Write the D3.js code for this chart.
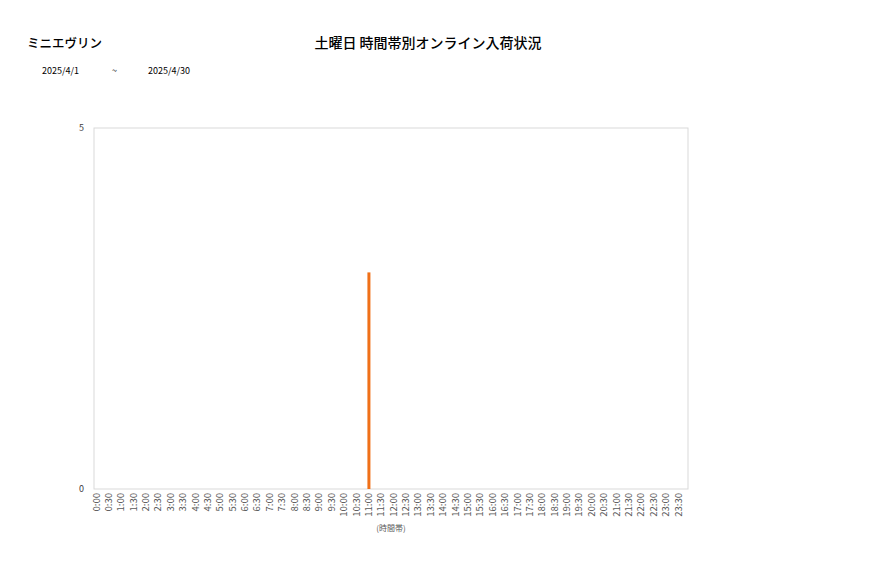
<!DOCTYPE html>
<html>
<head>
<meta charset="utf-8">
<title>土曜日 時間帯別オンライン入荷状況</title>
<script src="https://cdn.jsdelivr.net/npm/d3@7"></script>
<style>
  body { margin: 0; background: #fff; }
  text { font-family: "Noto Sans CJK JP", "Noto Sans", sans-serif; }
</style>
</head>
<body>
<div id="chart"></div>
<script>
// data
var shopName = "ミニエヴリン";
var chartTitle = "土曜日 時間帯別オンライン入荷状況";
var dateFrom = "2025/4/1", dateTo = "2025/4/30";
var timeSlots = [];
for (var h = 0; h < 24; h++) { timeSlots.push(h + ":00"); timeSlots.push(h + ":30"); }
var arrivals = [0,0,0,0,0,0,0,0,0,0,0,0,0,0,0,0,0,0,0,0,0,0,3,0,
                0,0,0,0,0,0,0,0,0,0,0,0,0,0,0,0,0,0,0,0,0,0,0,0];
var yTicks = [0, 5];

var width = 877, height = 578;
var plot = { left: 94, right: 688, top: 128, bottom: 489 };

var svg = d3.select("#chart").append("svg")
  .attr("width", width)
  .attr("height", height);

// titles
svg.append("text").attr("x", 27).attr("y", 48)
  .style("font-size", "12.5px").style("font-weight", "500").attr("fill", "#000")
  .text(shopName);
svg.append("text").attr("x", 428).attr("y", 48)
  .attr("text-anchor", "middle")
  .style("font-size", "14px").style("font-weight", "500").attr("fill", "#000")
  .text(chartTitle);
svg.append("text").attr("x", 42).attr("y", 74).style("font-size", "9px").text(dateFrom);
svg.append("text").attr("x", 112).attr("y", 74).style("font-size", "9px").text("~");
svg.append("text").attr("x", 148).attr("y", 74).style("font-size", "9px").text(dateTo);

var x = d3.scalePoint().domain(timeSlots).range([96.5, 678.5]);
var y = d3.scaleLinear().domain([0, 5]).range([plot.bottom, plot.top]);

// plot frame
svg.append("rect")
  .attr("x", plot.left).attr("y", plot.top)
  .attr("width", plot.right - plot.left).attr("height", plot.bottom - plot.top)
  .attr("fill", "none").attr("stroke", "#d9d9d9").attr("stroke-width", 1);

// y ticks
svg.selectAll("text.ytick").data(yTicks).enter().append("text")
  .attr("class", "ytick")
  .attr("x", 84).attr("y", function(d) { return y(d) + 3; })
  .attr("text-anchor", "end")
  .style("font-size", "9px").attr("fill", "#404040")
  .text(function(d) { return d; });

// x labels, rotated
svg.selectAll("text.xtick").data(timeSlots).enter().append("text")
  .attr("class", "xtick")
  .attr("transform", function(d) { return "translate(" + (x(d) + 3) + ",493) rotate(-90)"; })
  .attr("text-anchor", "end")
  .style("font-size", "9.5px").attr("fill", "#595959")
  .text(function(d) { return d; });

svg.append("text").attr("x", 391).attr("y", 531)
  .attr("text-anchor", "middle")
  .style("font-size", "8px").attr("fill", "#595959")
  .text("(時間帯)");

// bars
svg.selectAll("rect.bar").data(arrivals).enter().append("rect")
  .attr("class", "bar")
  .attr("x", function(d, i) { return x(timeSlots[i]) - 1.5; })
  .attr("y", function(d) { return y(d); })
  .attr("width", 3)
  .attr("height", function(d) { return plot.bottom - y(d); })
  .attr("fill", "#f07018");
</script>
</body>
</html>
